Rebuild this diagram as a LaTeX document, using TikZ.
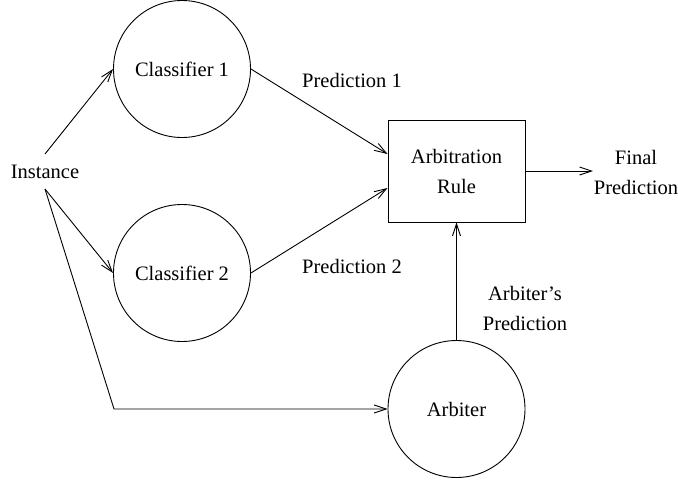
\documentclass[tikz,border=0pt]{standalone}
\usepackage{fontspec}
\setmainfont{Liberation Serif}
\usetikzlibrary{arrows.meta}
\begin{document}
\begin{tikzpicture}[x=1pt,y=-1pt,
  every node/.style={font=\fontsize{20.5}{30}\selectfont},
  proc/.style={draw,circle,line width=0.9pt,minimum size=137pt,inner sep=0pt},
  rulebox/.style={draw,rectangle,line width=0.9pt,minimum width=137pt,minimum height=102pt,inner sep=0pt,align=center},
  lbl/.style={align=center,inner sep=0pt},
  conn/.style={line width=0.9pt,-{Straight Barb[length=12pt,width=8pt,line width=0.9pt]}}]
\useasboundingbox (0,0) rectangle (678,482);
\node[proc] (c1) at (182,69) {Classifier 1};
\node[proc] (c2) at (182,273) {Classifier 2};
\node[proc] (arb) at (456.5,409) {Arbiter};
\node[rulebox] (rule) at (456.5,171) {Arbitration\\Rule};
\node[lbl] (inst) at (45,172) {Instance};
\coordinate (instTop) at (45,154);
\coordinate (instBot) at (45,189);
\coordinate (corner) at (114,409);
\coordinate (final) at (593,171);
\node[lbl] (p1) at (352,80) {Prediction 1};
\node[lbl] (p2) at (352,266) {Prediction 2};
\node[lbl] (ap) at (525,308) {Arbiter's\\Prediction};
\node[lbl] (fp) at (636,172) {Final\\Prediction};
\draw[conn] (instTop) -- (c1.west);
\draw[conn] (instBot) -- (c2.west);
\draw[conn] (instBot) -- (corner) -- (arb.west);
\draw[conn] (c1.east) -- (rule.west |- 0,154);
\draw[conn] (c2.east) -- (rule.west |- 0,188);
\draw[conn] (rule.east) -- (final);
\draw[conn] (arb.north) -- (rule.south);
\end{tikzpicture}
\end{document}
